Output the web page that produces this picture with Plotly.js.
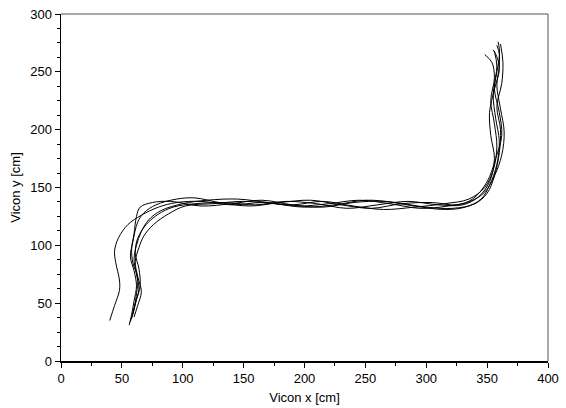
<!DOCTYPE html>
<html><head><meta charset="utf-8">
<script src="https://cdn.plot.ly/plotly-3.0.1.min.js"></script>
<style>html,body{margin:0;padding:0;background:#fff}#c{width:566px;height:408px}</style>
</head><body><div id="c"></div>
<script>
var t1x=[40,44,48,48,45,44,47,55,66,80,95,115,140,165,190,215,240,265,290,315,335,348,355,358,356,353,356,354,348];
var t1y=[35,48,61,70,85,95,106,118,126,133,137,138,135,137,135,138,134,131,133,136,140,150,165,185,205,225,245,258,265];
var t2x=[56,58,60,62,60,57,59,63,68,78,95,110,130,155,180,205,230,255,280,305,325,338,350,357,362,360,356,358,356];
var t2y=[31,40,52,65,78,90,103,120,128,135,140,141,137,134,137,139,135,132,136,137,135,140,155,175,195,215,235,255,268];
var t3x=[57,60,62,63,59,58,60,62,65,75,90,115,140,165,190,215,240,265,290,315,332,345,352,358,360,357,355,358,360,358];
var t3y=[34,45,58,72,85,97,110,125,133,137,138,134,136,139,135,133,137,138,134,131,133,140,152,170,190,210,230,250,265,273];
var t4x=[58,61,64,62,60,62,66,72,82,100,120,145,170,195,220,245,270,295,318,336,348,356,362,364,361,358,360,360,359];
var t4y=[37,50,62,75,88,100,112,122,130,136,139,140,137,134,136,139,136,132,134,138,146,160,178,198,218,238,255,270,276];
var t5x=[59,62,65,64,61,63,70,80,92,110,135,160,185,210,235,260,285,310,330,343,352,356,353,352,356,360,358,355];
var t5y=[40,53,65,80,93,106,118,127,133,136,137,135,138,136,132,135,138,135,135,142,155,175,195,215,235,252,263,269];
var t6x=[60,63,66,63,61,64,68,76,88,102,125,150,175,200,225,250,275,300,322,340,350,356,360,361,358,362,363,361];
var t6y=[38,48,60,73,86,98,108,118,127,134,136,138,136,133,135,139,137,133,132,136,145,160,180,200,220,240,258,274];
var xsets=[t1x,t2x,t3x,t4x,t5x,t6x];
var ysets=[t1y,t2y,t3y,t4y,t5y,t6y];
var xTicks=[0,50,100,150,200,250,300,350,400];
var yTicks=[0,50,100,150,200,250,300];

var data=xsets.map(function(xs,i){return {x:xs,y:ysets[i],mode:'lines',type:'scatter',
  line:{color:'#000',width:1,shape:'spline',smoothing:1},hoverinfo:'none',showlegend:false};});
var font={family:'Liberation Sans, Arial, sans-serif',size:13,color:'#000'};
var layout={width:566,height:408,margin:{l:61,r:18,t:14,b:47},paper_bgcolor:'#fff',plot_bgcolor:'#fff',
  font:font,showlegend:false,
  xaxis:{range:[0,400],tickvals:xTicks,ticktext:xTicks.map(String),showgrid:false,zeroline:false,
    showline:true,linecolor:'#000',linewidth:1.5,ticks:'outside',ticklen:5,tickcolor:'#000',tickwidth:1,
    minor:{dtick:25,tick0:0,ticks:'outside',ticklen:3,tickcolor:'#000',showgrid:false},
    tickfont:font,title:{text:'Vicon x [cm]',font:{family:font.family,size:13,color:'#000'},standoff:8}},
  yaxis:{range:[0,300],tickvals:yTicks,ticktext:yTicks.map(String),showgrid:false,zeroline:false,
    showline:true,linecolor:'#000',linewidth:1.5,ticks:'outside',ticklen:5,tickcolor:'#000',tickwidth:1,
    minor:{dtick:12.5,tick0:0,ticks:'outside',ticklen:3,tickcolor:'#000',showgrid:false},
    tickfont:font,title:{text:'Vicon y [cm]',font:{family:font.family,size:13,color:'#000'},standoff:6}},
  shapes:[{type:'line',xref:'paper',yref:'paper',x0:0,x1:1,y0:1,y1:1,line:{color:'#555',width:1}},
          {type:'line',xref:'paper',yref:'paper',x0:1,x1:1,y0:0,y1:1,line:{color:'#555',width:1}}]
};
Plotly.newPlot('c',data,layout,{staticPlot:true});
</script></body></html>
